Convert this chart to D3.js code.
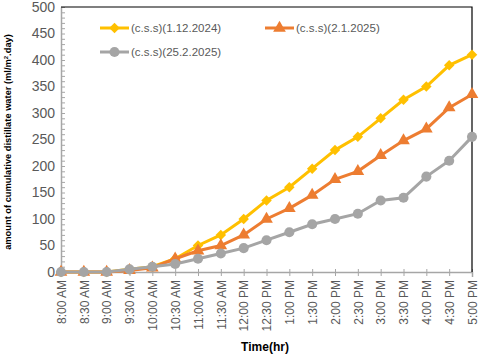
<!DOCTYPE html>
<html>
<head>
<meta charset="utf-8">
<script src="https://cdn.jsdelivr.net/npm/d3@7"></script>
<style>
  body { margin: 0; background: #fff; }
  text { font-family: "Liberation Sans", Arial, sans-serif; }
</style>
</head>
<body>
<svg id="chart" width="480" height="358"></svg>
<script>
let times = ['8:00 AM','8:30 AM','9:00 AM','9:30 AM','10:00 AM','10:30 AM','11:00 AM','11:30 AM','12:00 PM','12:30 PM','1:00 PM','1:30 PM','2:00 PM','2:30 PM','3:00 PM','3:30 PM','4:00 PM','4:30 PM','5:00 PM']
let css1 = [0,0,0,5,10,25,50,70,100,135,160,195,230,255,290,325,350,390,410]
let css2 = [0,0,0,3,8,25,40,50,70,100,120,145,175,190,220,248,270,310,335]
let css3 = [0,0,0,5,10,15,25,35,45,60,75,90,100,110,135,140,180,210,255]
let yTicks = [0,50,100,150,200,250,300,350,400,450,500]

let series = [
  { name: '(c.s.s)(1.12.2024)', values: css1, color: '#FFC000', shape: d3.symbolDiamond2, size: 70 },
  { name: '(c.s.s)(2.1.2025)', values: css2, color: '#ED7D31', shape: d3.symbolTriangle, size: 70 },
  { name: '(c.s.s)(25.2.2025)', values: css3, color: '#A5A5A5', shape: d3.symbolCircle, size: 80 }
]

let svg = d3.select('#chart')
let plotLeft = 61, plotRight = 472, plotTop = 7, plotBottom = 272

let x = d3.scalePoint().domain(times).range([plotLeft, plotRight])
let y = d3.scaleLinear().domain([0, 500]).range([plotBottom, plotTop])

// minor ticks on y
svg.append('g')
  .attr('transform', `translate(${plotLeft},0)`)
  .call(d3.axisLeft(y).tickValues(d3.range(0, 501, 10)).tickSize(4).tickFormat(''))
  .call(g => g.select('.domain').remove())
  .call(g => g.selectAll('line').attr('stroke', '#A6A6A6').attr('x2', 4))

let yAxis = svg.append('g')
  .attr('transform', `translate(${plotLeft},0)`)
  .call(d3.axisLeft(y).tickValues(yTicks).tickSize(0).tickPadding(6))
yAxis.select('.domain').attr('stroke', '#A6A6A6').attr('stroke-width', 1.5)
yAxis.selectAll('text').attr('fill', '#595959').style('font-size', '14px')

let xAxis = svg.append('g')
  .attr('transform', `translate(0,${plotBottom})`)
  .call(d3.axisBottom(x).tickSize(5).tickPadding(4))
xAxis.select('.domain').attr('stroke', '#A6A6A6').attr('stroke-width', 1.5)
xAxis.selectAll('.tick line').attr('stroke', '#A6A6A6').attr('y1', -3).attr('y2', 4)
xAxis.selectAll('text')
  .attr('fill', '#595959')
  .style('font-size', '12px')
  .attr('transform', 'rotate(-90)')
  .attr('text-anchor', 'end')
  .attr('x', -8)
  .attr('y', 0)
  .attr('dy', '0.35em')

// top and right border
svg.append('path')
  .attr('d', `M${plotLeft},${plotTop}H${plotRight}V${plotBottom}`)
  .attr('fill', 'none')
  .attr('stroke', '#000')
  .attr('stroke-width', 1.2)

let line = d3.line().x((d, i) => x(times[i])).y(d => y(d))

series.forEach(s => {
  svg.append('path')
    .datum(s.values)
    .attr('d', line)
    .attr('fill', 'none')
    .attr('stroke', s.color)
    .attr('stroke-width', 3)
  svg.selectAll(null)
    .data(s.values)
    .enter()
    .append('path')
    .attr('d', d3.symbol().type(s.shape).size(s.size))
    .attr('transform', (d, i) => `translate(${x(times[i])},${y(d)})`)
    .attr('fill', s.color)
})

// legend
let legendPos = [[100, 28], [265, 28], [100, 52]]
series.forEach((s, i) => {
  let g = svg.append('g').attr('transform', `translate(${legendPos[i][0]},${legendPos[i][1]})`)
  g.append('line').attr('x1', 0).attr('x2', 29).attr('stroke', s.color).attr('stroke-width', 3)
  g.append('path').attr('d', d3.symbol().type(s.shape).size(s.size)).attr('transform', 'translate(14.5,0)').attr('fill', s.color)
  g.append('text').attr('x', 31).attr('dy', '0.35em').attr('fill', '#595959').style('font-size', '11.5px').text(s.name)
})

// axis titles
svg.append('text')
  .attr('x', 265).attr('y', 351)
  .attr('text-anchor', 'middle')
  .style('font-size', '12px').style('font-weight', 'bold')
  .text('Time(hr)')

let yt = svg.append('text')
  .attr('transform', 'translate(11,142) rotate(-90)')
  .attr('text-anchor', 'middle')
  .style('font-size', '9.3px').style('font-weight', 'bold')
yt.append('tspan').text('amount of cumulative distillate water (ml/m')
yt.append('tspan').attr('dy', -3).style('font-size', '6px').text('2')
yt.append('tspan').attr('dy', 3).text('.day)')
</script>
</body>
</html>
